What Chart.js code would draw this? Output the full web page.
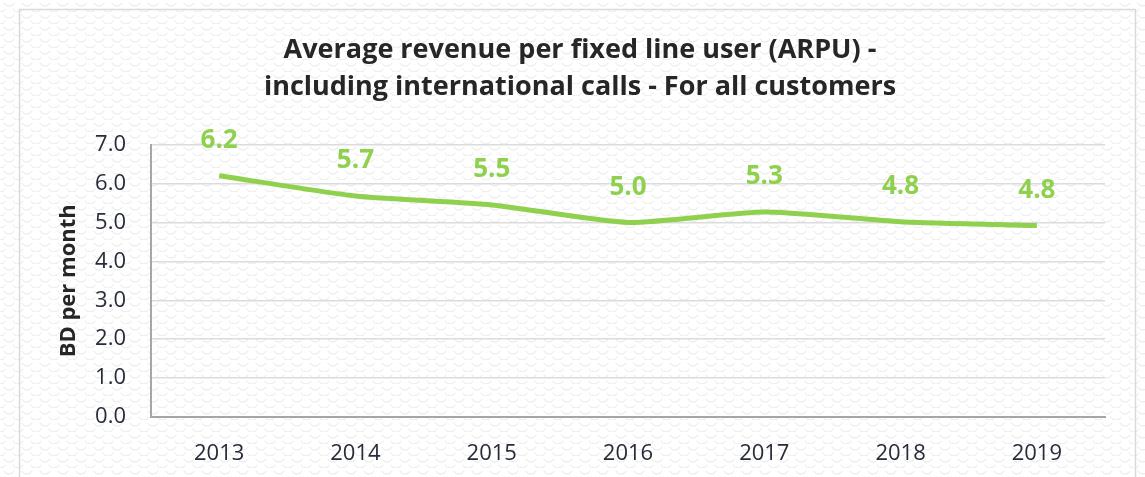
<!DOCTYPE html>
<html>
<head>
<meta charset="utf-8">
<script src="https://cdn.jsdelivr.net/npm/chart.js@4.4.0/dist/chart.umd.min.js"></script>
<style>
    html, body { margin: 0; padding: 0; background: #fff; }
    #wrap { width: 1145px; height: 477px; position: relative; }
</style>
</head>
<body>
<div id="wrap"><canvas id="arpuChart"></canvas></div>
<script>
// Data
const years = ['2013', '2014', '2015', '2016', '2017', '2018', '2019'];
const arpuValues = [6.2, 5.68, 5.45, 5.0, 5.27, 5.02, 4.92];
const arpuLabels = ['6.2', '5.7', '5.5', '5.0', '5.3', '4.8', '4.8'];
const titleLines = ['Average revenue per fixed line user (ARPU) -', 'including international calls - For all customers'];

const green = '#8fd14f';
const textColor = '#262c3a';

// light scale-like background texture
function makePattern() {
    const c = document.createElement('canvas');
    c.width = 18; c.height = 12;
    const g = c.getContext('2d');
    g.fillStyle = '#ffffff';
    g.fillRect(0, 0, 18, 12);
    g.strokeStyle = '#e6e6e6';
    g.lineWidth = 1;
    g.beginPath();
    g.arc(9, 0, 6, 0.15 * Math.PI, 0.85 * Math.PI);
    g.stroke();
    g.beginPath();
    g.arc(0, 6, 6, 0.15 * Math.PI, 0.85 * Math.PI);
    g.stroke();
    g.beginPath();
    g.arc(18, 6, 6, 0.15 * Math.PI, 0.85 * Math.PI);
    g.stroke();
    return c;
}

const backgroundPlugin = {
    id: 'bgPattern',
    beforeDraw(chart) {
        const ctx = chart.ctx;
        ctx.save();
        ctx.fillStyle = ctx.createPattern(makePattern(), 'repeat');
        ctx.fillRect(0, 0, chart.width, chart.height);
        ctx.strokeStyle = '#d9d9d9';
        ctx.lineWidth = 1.5;
        ctx.strokeRect(19.5, 9.5, 1116, 480);
        ctx.restore();
    }
};

const valueLabelPlugin = {
    id: 'valueLabels',
    afterDatasetsDraw(chart) {
        const ctx = chart.ctx;
        const meta = chart.getDatasetMeta(0);
        ctx.save();
        ctx.font = 'bold 26px "Open Sans"';
        ctx.fillStyle = green;
        ctx.textAlign = 'center';
        ctx.textBaseline = 'middle';
        meta.data.forEach((pt, i) => {
            ctx.fillText(arpuLabels[i], pt.x, pt.y - 35);
        });
        ctx.restore();
    }
};

const arpuCtx = document.getElementById('arpuChart').getContext('2d');
const arpuChart = new Chart(arpuCtx, {
    type: 'line',
    data: {
        labels: years,
        datasets: [{
            label: 'ARPU',
            data: arpuValues,
            borderColor: green,
            borderWidth: 5,
            pointRadius: 0,
            tension: 0.2,
            fill: false
        }]
    },
    options: {
        responsive: true,
        maintainAspectRatio: false,
        animation: false,
        layout: {
            padding: { left: 55, right: 40, top: 0, bottom: 0 }
        },
        plugins: {
            legend: { display: false },
            tooltip: { enabled: false },
            title: {
                display: true,
                text: titleLines,
                color: '#262626',
                font: { family: '"Open Sans"', size: 27, weight: 'bold', lineHeight: 1.4 },
                padding: { top: 31, bottom: 38 }
            }
        },
        scales: {
            x: {
                offset: true,
                grid: { display: false, drawTicks: false },
                border: { display: true, color: '#a6a6a6', width: 2 },
                ticks: {
                    color: textColor,
                    font: { family: '"Open Sans"', size: 22 },
                    padding: 24
                },
                afterFit(scale) { scale.height = 60; }
            },
            y: {
                min: 0,
                max: 7,
                grid: { color: '#dcdcdc', lineWidth: 1.5, drawTicks: false },
                border: { display: true, color: '#a6a6a6', width: 2 },
                ticks: {
                    stepSize: 1,
                    color: textColor,
                    font: { family: '"Open Sans"', size: 22 },
                    padding: 25,
                    callback: v => v.toFixed(1)
                },
                title: {
                    display: true,
                    text: 'BD per month',
                    color: '#262626',
                    font: { family: '"Open Sans"', size: 22, weight: 'bold' },
                    padding: { top: 1, bottom: 0 }
                },
                afterFit(scale) { scale.width = 96; }
            }
        }
    },
    plugins: [backgroundPlugin, valueLabelPlugin]
});
</script>
</body>
</html>
